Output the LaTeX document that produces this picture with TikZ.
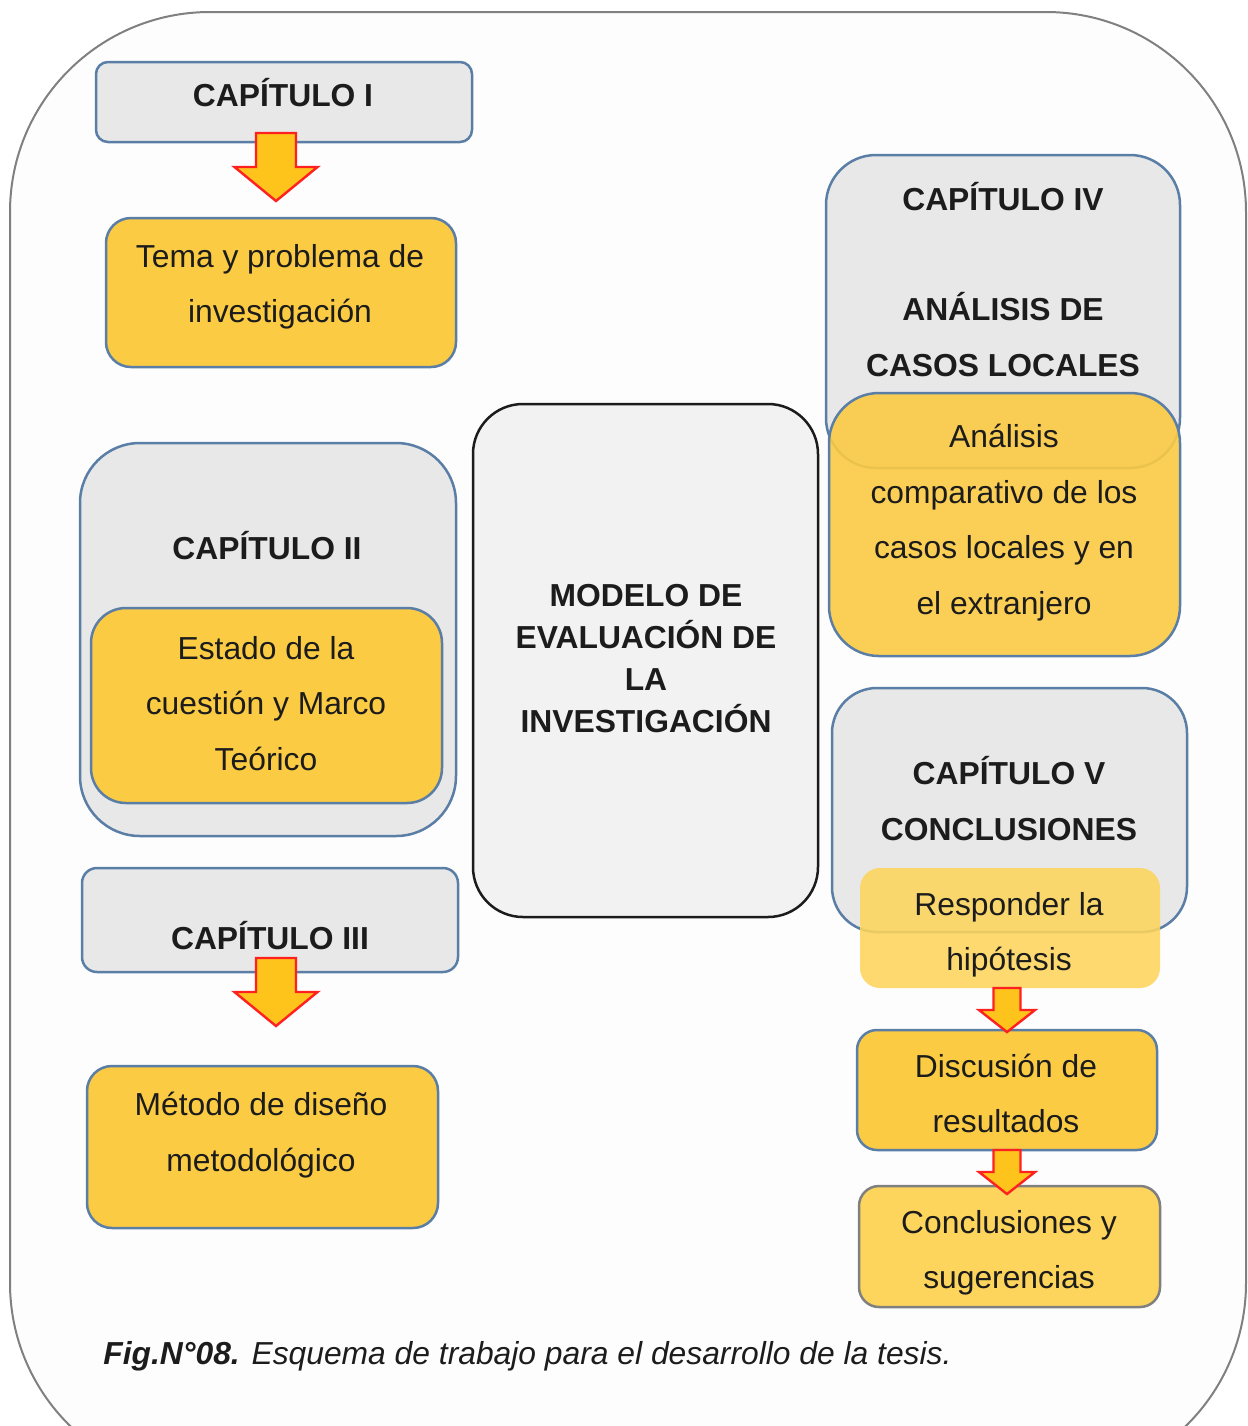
\documentclass[tikz,border=0pt]{standalone}
\usepackage{fontspec}
\setmainfont{Liberation Sans}
\usetikzlibrary{calc}
\definecolor{gris}{HTML}{E8E8E8}
\definecolor{grisclaro}{HTML}{F2F2F2}
\definecolor{fondo}{HTML}{FDFDFD}
\definecolor{azul}{HTML}{5A7EA6}
\definecolor{amarillo}{HTML}{FBCB43}
\definecolor{amarilloclaro}{HTML}{FDD55C}
\definecolor{naranja}{HTML}{FFC41C}
\definecolor{rojo}{HTML}{FF2020}
\definecolor{tinta}{HTML}{1C1C1C}
\definecolor{borde}{HTML}{808080}

% block arrow: #1 top of shaft, #2 tip, #3 half shaft, #4 half head, #5 head length
\newcommand{\flecha}[5]{%
  \draw[flecha] ($(#1)+(-#3,0)$) -- ($(#1)+(#3,0)$) -- ($(#2)+(#3,-#5)$)
    -- ($(#2)+(#4,-#5)$) -- (#2) -- ($(#2)+(-#4,-#5)$) -- ($(#2)+(-#3,-#5)$) -- cycle;}

\begin{document}
\begin{tikzpicture}[x=0.5pt,y=0.5pt,yscale=-1,xscale=1,
  caja/.style={draw=azul, line width=1.25pt, rounded corners=#1, inner sep=0pt},
  caja/.default=12pt,
  capbox/.style={caja=#1, fill=gris},
  temabox/.style={caja=#1, fill=amarillo},
  flecha/.style={draw=rojo, fill=naranja, line width=1.2pt, line join=miter},
  texto/.style={font=\fontsize{15.9}{27.75}\selectfont, align=center, text=tinta, inner sep=0pt},
  titulo/.style={texto, font=\fontsize{15.9}{27.75}\selectfont\bfseries}]
  \clip (0,0) rectangle (1248,1426);
  \draw[draw=borde, fill=fondo, line width=1pt, rounded corners=100pt] (10,12) rectangle (1246,1483);

  % left column
  \node[capbox=6pt, minimum width=188pt, minimum height=40pt] (capI) at (284,102) {};
  \node[temabox=12.5pt, minimum width=175pt, minimum height=74.5pt] (tema) at (281,292.5) {};
  \node[capbox=30pt, minimum width=188pt, minimum height=196.5pt] (capII) at (268,639.5) {};
  \node[temabox=17.5pt, minimum width=175.5pt, minimum height=97.5pt] (estado) at (266.5,705.5) {};
  \node[capbox=7.5pt, minimum width=188pt, minimum height=52pt] (capIII) at (270,920) {};
  \node[temabox=12.5pt, minimum width=175.5pt, minimum height=81pt] (metodo) at (262.5,1147) {};

  % centre
  \node[caja=25pt, draw=tinta, fill=grisclaro, minimum width=172.5pt, minimum height=256.5pt] (modelo) at (645.5,660.5) {};

  % right column
  \node[capbox=25pt, minimum width=177pt, minimum height=156.5pt] (capIV) at (1003,311.5) {};
  \node[temabox=25pt, fill opacity=0.9, minimum width=175.5pt, minimum height=131.5pt] (analisis) at (1004.5,524.5) {};
  \node[capbox=22.5pt, minimum width=177.5pt, minimum height=122pt] (capV) at (1009.5,810) {};
  \node[temabox=10pt, draw=none, fill=amarilloclaro, fill opacity=0.88, minimum width=150pt, minimum height=60pt] (responder) at (1010,928) {};
  \node[temabox=10pt, minimum width=150pt, minimum height=60pt] (discusion) at (1007,1090) {};
  \node[temabox=10pt, draw=borde, fill=amarilloclaro, minimum width=150.5pt, minimum height=60.5pt] (conclusiones) at (1009.5,1246.5) {};

  % arrows
  \coordinate (f1a) at (276,133);
  \coordinate (f1b) at (276,201);
  \coordinate (f2a) at (276,958);
  \coordinate (f2b) at (276,1026);
  \coordinate (f3a) at (1007,988);
  \coordinate (f3b) at (1007,1032);
  \coordinate (f4a) at (1007,1150);
  \coordinate (f4b) at (1007,1194);
  \flecha{f1a}{f1b}{20}{41.5}{34}
  \flecha{f2a}{f2b}{20}{41.5}{34}
  \flecha{f3a}{f3b}{13.5}{28}{22}
  \flecha{f4a}{f4b}{13.5}{28}{22}

  % texts
  \node[titulo] (tcapI) at (283,93) {CAPÍTULO I};
  \node[texto] (ttema) at (280,287) {Tema y problema de\\investigación};
  \node[titulo] (tcapII) at (267,546) {CAPÍTULO II};
  \node[texto] (testado) at (266,703.5) {Estado de la\\cuestión y Marco\\Teórico};
  \node[titulo] (tcapIII) at (270,936) {CAPÍTULO III};
  \node[texto] (tmetodo) at (261,1135) {Método de diseño\\metodológico};
  \node[titulo, font=\fontsize{15.9}{21}\selectfont\bfseries] (tmodelo) at (646,659) {MODELO DE\\EVALUACIÓN DE\\LA\\INVESTIGACIÓN};
  \node[titulo] (tcapIV) at (1003,197) {CAPÍTULO IV};
  \node[titulo] (tanalisisIV) at (1003,334.5) {ANÁLISIS DE\\CASOS LOCALES};
  \node[texto] (tanalisis) at (1004,522.5) {Análisis\\comparativo de los\\casos locales y en\\el extranjero};
  \node[titulo] (tcapV) at (1009,798.5) {CAPÍTULO V\\CONCLUSIONES};
  \node[texto] (tresponder) at (1009,935) {Responder la\\hipótesis};
  \node[texto] (tdiscusion) at (1006,1093.5) {Discusión de\\resultados};
  \node[texto] (tconclusiones) at (1009,1253) {Conclusiones y\\sugerencias};
  \node[texto, anchor=west] (pie) at (103,1356) {\textbf{\textit{Fig.N°08.}} \textit{Esquema de trabajo para el desarrollo de la tesis.}};
\end{tikzpicture}
\end{document}
